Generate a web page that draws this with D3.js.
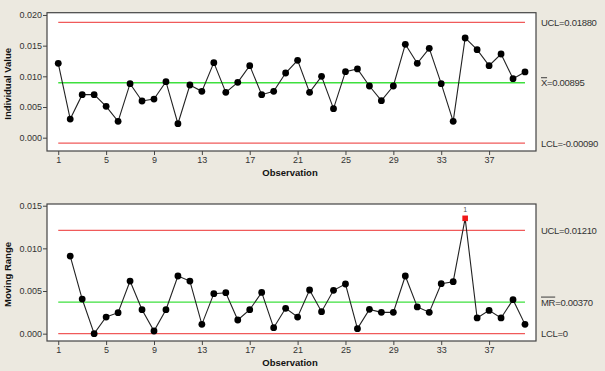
<!DOCTYPE html>
<html>
<head>
<meta charset="utf-8">
<script src="https://cdn.jsdelivr.net/npm/d3@7"></script>
<style>
  body { margin: 0; background: #ece9e0; }
  svg { display: block; font-family: "Liberation Sans", Arial, sans-serif; }
  .axis path, .axis line { stroke: #444; }
  .axis text { fill: #333; font-size: 9px; }
</style>
</head>
<body>
<div id="chart"></div>
<script>
// observation values (individuals chart)
const individualValues = [
    0.01212, 0.00304, 0.00701, 0.00701, 0.00511, 0.00266, 0.00880, 0.00598, 0.00630, 0.00913,
    0.00228, 0.00859, 0.00755, 0.01223, 0.00739, 0.00902, 0.01174, 0.00701, 0.00755, 0.01054,
    0.01261, 0.00739, 0.01000, 0.00473, 0.01076, 0.01120, 0.00842, 0.00603, 0.00842, 0.01522,
    0.01212, 0.01457, 0.00880, 0.00266, 0.01625, 0.01435, 0.01174, 0.01364, 0.00962, 0.01071
];
// moving ranges, starting at observation 2
const movingRanges = [
    0.00910, 0.00406, 0.00000, 0.00195, 0.00246, 0.00617, 0.00281, 0.00031, 0.00281,
    0.00676, 0.00617, 0.00109, 0.00469, 0.00480, 0.00160, 0.00281, 0.00484, 0.00070, 0.00297,
    0.00195, 0.00512, 0.00258, 0.00508, 0.00582, 0.00059, 0.00285, 0.00250, 0.00250, 0.00676,
    0.00313, 0.00250, 0.00586, 0.00609, 0.01352, 0.00184, 0.00273, 0.00184, 0.00398, 0.00109
];
const xTicks = [1, 5, 9, 13, 17, 21, 25, 29, 33, 37];
const iLimits = {ucl: 0.01880, center: 0.00895, lcl: -0.00090};
const mrLimits = {ucl: 0.01210, center: 0.00370, lcl: 0};
const iTicks = [0, 0.005, 0.010, 0.015, 0.020];
const mrTicks = [0, 0.005, 0.010, 0.015];
const mrFlagged = [35];

const width = 605, height = 371;
const svg = d3.select("#chart").append("svg")
    .attr("width", width)
    .attr("height", height);

const x = d3.scaleLinear().domain([0.06, 40.92]).range([47, 536]);

function drawPanel(opts) {
    const y = d3.scaleLinear().domain(opts.domain).range([opts.bottom, opts.top]);

    svg.append("rect")
        .attr("x", 47).attr("y", opts.top)
        .attr("width", 489).attr("height", opts.bottom - opts.top)
        .attr("fill", "#fff")
        .attr("stroke", "#444")
        .attr("stroke-width", 1.2);

    svg.append("g")
        .attr("class", "axis")
        .attr("transform", "translate(47,0)")
        .call(d3.axisLeft(y).tickValues(opts.ticks).tickSize(4).tickPadding(1)
            .tickFormat(d3.format(".3f")))
        .call(g => g.select(".domain").remove());

    svg.append("g")
        .attr("class", "axis")
        .attr("transform", `translate(0,${opts.bottom})`)
        .call(d3.axisBottom(x).tickValues(xTicks).tickSize(4).tickPadding(2)
            .tickFormat(d3.format("d")))
        .call(g => g.select(".domain").remove());

    svg.append("text")
        .attr("x", 290).attr("y", opts.bottom + 25)
        .attr("text-anchor", "middle")
        .attr("font-size", 9.5).attr("font-weight", "bold").attr("fill", "#111")
        .text("Observation");

    svg.append("text")
        .attr("transform", `translate(11,${(opts.top + opts.bottom) / 2 + 2}) rotate(-90)`)
        .attr("text-anchor", "middle")
        .attr("font-size", 9.5).attr("font-weight", "bold").attr("fill", "#111")
        .text(opts.yTitle);

    const limitLines = [
        {v: opts.limits.ucl, color: "#f05a5a"},
        {v: opts.limits.center, color: "#3ee03e"},
        {v: opts.limits.lcl, color: "#f05a5a"}
    ];
    svg.selectAll(null).data(limitLines).enter().append("line")
        .attr("x1", x(1)).attr("x2", x(40))
        .attr("y1", d => y(d.v)).attr("y2", d => y(d.v))
        .attr("stroke", d => d.color)
        .attr("stroke-width", 1.3);

    // right-side limit labels
    opts.labels.forEach((lab, i) => {
        const t = svg.append("text")
            .attr("x", 541).attr("y", y(limitLines[i].v) + 3.5)
            .attr("font-size", 9.5).attr("fill", "#333")
            .attr("letter-spacing", -0.3);
        if (lab.bar) {
            t.append("tspan").attr("text-decoration", "overline").text(lab.bar);
        }
        t.append("tspan").text(lab.text);
    });

    const line = d3.line().x(d => x(d.obs)).y(d => y(d.v));
    svg.append("path")
        .datum(opts.data)
        .attr("d", line)
        .attr("fill", "none")
        .attr("stroke", "#222")
        .attr("stroke-width", 1.1);

    const normal = opts.data.filter(d => !opts.flagged.includes(d.obs));
    const flagged = opts.data.filter(d => opts.flagged.includes(d.obs));

    svg.selectAll(null).data(normal).enter().append("circle")
        .attr("cx", d => x(d.obs)).attr("cy", d => y(d.v))
        .attr("r", 3.4)
        .attr("fill", "#000");

    svg.selectAll(null).data(flagged).enter().append("rect")
        .attr("x", d => x(d.obs) - 2.8).attr("y", d => y(d.v) - 2.8)
        .attr("width", 5.6).attr("height", 5.6)
        .attr("fill", "#f01818");

    svg.selectAll(null).data(flagged).enter().append("text")
        .attr("x", d => x(d.obs)).attr("y", d => y(d.v) - 6)
        .attr("text-anchor", "middle")
        .attr("font-size", 7).attr("fill", "#555")
        .text("1");
}

drawPanel({
    top: 12.7, bottom: 151,
    domain: [-0.00217, 0.02037],
    ticks: iTicks,
    yTitle: "Individual Value",
    limits: iLimits,
    labels: [{text: "UCL=0.01880"}, {bar: "X", text: "=0.00895"}, {text: "LCL=-0.00090"}],
    data: individualValues.map((v, i) => ({obs: i + 1, v})),
    flagged: []
});

drawPanel({
    top: 204, bottom: 341,
    domain: [-0.00086, 0.0152],
    ticks: mrTicks,
    yTitle: "Moving Range",
    limits: mrLimits,
    labels: [{text: "UCL=0.01210"}, {bar: "MR", text: "=0.00370"}, {text: "LCL=0"}],
    data: movingRanges.map((v, i) => ({obs: i + 2, v})),
    flagged: mrFlagged
});
</script>
</body>
</html>
